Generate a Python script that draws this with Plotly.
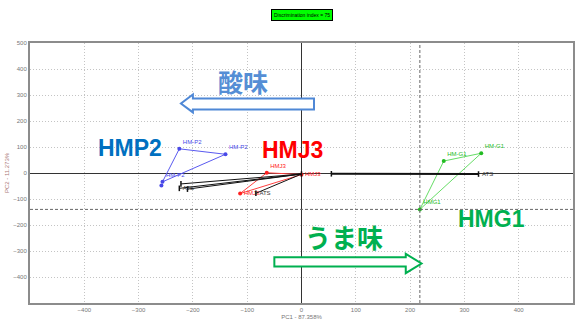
import plotly.graph_objects as go

# PCA scores (PC1, PC2) for each sample group
hmp2_x = [-225, -140, -256, -258]
hmp2_y = [93, 72, -34, -48]
hmp2_lbl = ["HM-P2", "HM-P2", "HM-P2", ""]

hmj3_x = [-64, 0, -113]
hmj3_y = [1, -6, -79]
hmj3_lbl = ["HMJ3", "HMJ3", "HMJ3"]

hmg1_x = [262, 331, 218]
hmg1_y = [46, 76, -140]
hmg1_lbl = ["HM-G1", "HM-G1", "HMG1"]

ats_x = [-222, -225, -210, -84, 0, 55, 326]
ats_y = [-42, -59, -62, -78, -4, -3, -4]
ats_lbl = ["", "ATS", "", "ATS", "", "", "ATS"]

x_ticks = [-400, -300, -200, -100, 0, 100, 200, 300, 400, 500]
y_ticks = [500, 400, 300, 200, 100, 0, -100, -200, -300, -400]

small_font = "Liberation Sans"

fig = go.Figure()


def closed(xs, ys, idx):
    return [xs[i] for i in idx] + [xs[idx[0]]], [ys[i] for i in idx] + [ys[idx[0]]]


def add_group(xs, ys, labels, line_color, marker_color, outline, pos="top right"):
    lx, ly = closed(xs, ys, outline)
    fig.add_trace(go.Scatter(x=lx, y=ly, mode="lines",
                             line=dict(color=line_color, width=1),
                             hoverinfo="skip", showlegend=False))
    fig.add_trace(go.Scatter(x=xs, y=ys, mode="markers+text", text=labels,
                             textposition=pos,
                             textfont=dict(size=6, color=marker_color, family=small_font),
                             marker=dict(size=4, color=marker_color),
                             showlegend=False))


add_group(hmp2_x, hmp2_y, hmp2_lbl, "#5a5af0", "#4848e8", [0, 1, 2])
add_group(hmj3_x, hmj3_y, hmj3_lbl, "#ff4040", "#ff2020", [0, 1, 2],
          pos=["top right", "middle right", "middle right"])
add_group(hmg1_x, hmg1_y, hmg1_lbl, "#66dd66", "#22bb22", [0, 1, 2])

# reference group: rays towards the origin plus the long PC1 segment
for i in (0, 1, 2, 3):
    fig.add_trace(go.Scatter(x=[ats_x[i], ats_x[4]], y=[ats_y[i], ats_y[4]], mode="lines",
                             line=dict(color="#111111", width=1),
                             hoverinfo="skip", showlegend=False))
fig.add_trace(go.Scatter(x=[ats_x[5], ats_x[6]], y=[ats_y[5], ats_y[6]], mode="lines",
                         line=dict(color="#111111", width=2),
                         hoverinfo="skip", showlegend=False))
fig.add_trace(go.Scatter(x=ats_x, y=ats_y, mode="markers+text", text=ats_lbl,
                         textposition="middle right",
                         textfont=dict(size=6, color="#333333", family=small_font),
                         marker=dict(size=4, color="#111111", symbol="line-ns-open",
                                     line=dict(width=1.5, color="#111111")),
                         showlegend=False))

# crosshair through the lowest HMG1 score
fig.add_shape(type="line", x0=hmg1_x[2], x1=hmg1_x[2], y0=-500, y1=500,
              line=dict(color="#666666", width=1, dash="3px,2px"))
fig.add_shape(type="line", x0=-500, x1=500, y0=hmg1_y[2], y1=hmg1_y[2],
              line=dict(color="#666666", width=1, dash="3px,2px"))


def arrow_path(tail, base, tip, shaft_lo, shaft_hi, head_lo, head_hi):
    return (f"M {tail} {shaft_lo} L {base} {shaft_lo} L {base} {head_lo} "
            f"L {tip} {(head_lo + head_hi) / 2} L {base} {head_hi} L {base} {shaft_hi} "
            f"L {tail} {shaft_hi} Z")


fig.add_shape(type="path", path=arrow_path(23, -200, -222, 244, 287, 233, 302),
              fillcolor="white", line=dict(color="#4f88d6", width=2))
fig.add_shape(type="path", path=arrow_path(-50, 192, 221, -360, -324, -385, -311),
              fillcolor="white", line=dict(color="#00b050", width=2))

big = "Liberation Sans"
fig.add_annotation(x=-315, y=97, text="<b>HMP2</b>", showarrow=False,
                   font=dict(size=23, color="#0070c0", family=big))
fig.add_annotation(x=-17, y=89, text="<b>HMJ3</b>", showarrow=False,
                   font=dict(size=23, color="#ff0000", family=big))
fig.add_annotation(x=349, y=-178, text="<b>HMG1</b>", showarrow=False,
                   font=dict(size=23, color="#00b050", family=big))
fig.add_annotation(x=-107, y=354, text="<b>酸味</b>", showarrow=False,
                   font=dict(size=25, color="#558ed5", family="Noto Sans CJK JP"))
fig.add_annotation(x=79, y=-244, text="<b>うま味</b>", showarrow=False,
                   font=dict(size=26, color="#00b050", family="Noto Sans CJK JP"))

fig.add_annotation(xref="paper", yref="paper", x=0.5, y=1.0, yshift=28, xanchor="center",
                   yanchor="middle", text="Discrimination index = 75", showarrow=False,
                   bgcolor="#00ff00", bordercolor="#000000", borderwidth=1, borderpad=2,
                   font=dict(size=5, color="#000000", family=small_font))

axis_common = dict(showgrid=True, gridcolor="#c4c4c4", griddash="1px,2px", gridwidth=1,
                   zeroline=True, zerolinecolor="#333333", zerolinewidth=1,
                   showline=True, linecolor="#8c8c8c", linewidth=2, mirror=True,
                   tickfont=dict(size=6, color="#777777", family=small_font),
                   ticks="", fixedrange=True)

fig.update_layout(
    width=577, height=329,
    margin=dict(l=30, r=2, t=43, b=26),
    paper_bgcolor="white", plot_bgcolor="white",
    xaxis=dict(range=[-500, 500], tickvals=x_ticks,
               title=dict(text="PC1 - 87.358%", standoff=3,
                          font=dict(size=6, color="#777777", family=small_font)),
               **axis_common),
    yaxis=dict(range=[-500, 500], tickvals=y_ticks,
               title=dict(text="PC2 - 11.273%", standoff=3,
                          font=dict(size=6, color="#aa7777", family=small_font)),
               **axis_common),
)

fig.write_html("out.html")
